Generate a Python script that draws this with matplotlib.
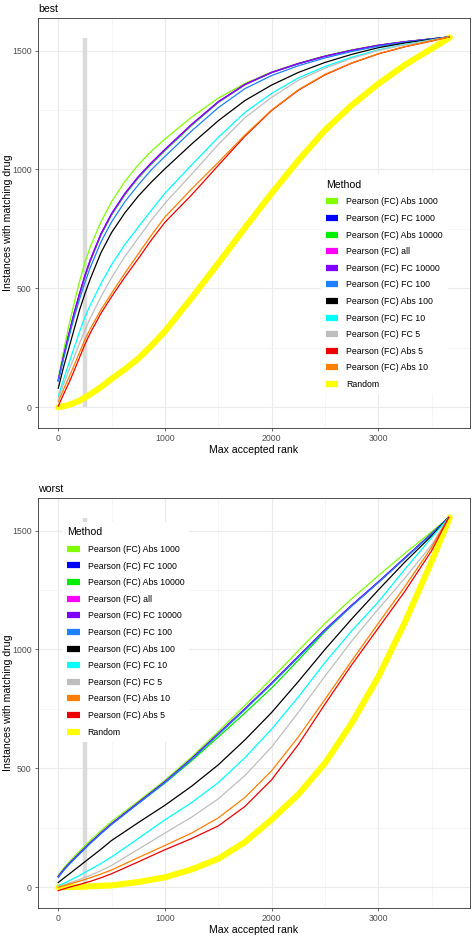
import matplotlib
matplotlib.use("Agg")
import matplotlib.pyplot as plt
from matplotlib.lines import Line2D

plt.rcParams['font.family'] = ['Liberation Sans', 'DejaVu Sans']

# ---------------- data ----------------
labels_best = ["Pearson (FC) Abs 1000", "Pearson (FC) FC 1000", "Pearson (FC) Abs 10000",
               "Pearson (FC) all", "Pearson (FC) FC 10000", "Pearson (FC) FC 100",
               "Pearson (FC) Abs 100", "Pearson (FC) FC 10", "Pearson (FC) FC 5",
               "Pearson (FC) Abs 5", "Pearson (FC) Abs 10", "Random"]
labels_worst = ["Pearson (FC) Abs 1000", "Pearson (FC) FC 1000", "Pearson (FC) Abs 10000",
                "Pearson (FC) all", "Pearson (FC) FC 10000", "Pearson (FC) FC 100",
                "Pearson (FC) Abs 100", "Pearson (FC) FC 10", "Pearson (FC) FC 5",
                "Pearson (FC) Abs 10", "Pearson (FC) Abs 5", "Random"]

method_colors = {
    "Pearson (FC) Abs 1000": "#7FFF00",
    "Pearson (FC) FC 1000": "#0000FF",
    "Pearson (FC) Abs 10000": "#00EE00",
    "Pearson (FC) all": "#FF00FF",
    "Pearson (FC) FC 10000": "#7F00FF",
    "Pearson (FC) FC 100": "#1C7FFF",
    "Pearson (FC) Abs 100": "#000000",
    "Pearson (FC) FC 10": "#00FFFF",
    "Pearson (FC) FC 5": "#BEBEBE",
    "Pearson (FC) Abs 5": "#EE0000",
    "Pearson (FC) Abs 10": "#FF7F00",
    "Random": "#FFFF00",
}

# best panel
x_best = [0, 25, 50, 100, 150, 200, 250, 300, 400, 500, 625, 750, 875, 1000, 1250,
          1500, 1750, 2000, 2250, 2500, 2750, 3000, 3250, 3500, 3660]
best_abs1000 = [120, 180, 238, 345, 440, 530, 610, 675, 780, 865, 950, 1020, 1078, 1128, 1220,
                1300, 1362, 1410, 1447, 1478, 1503, 1523, 1538, 1550, 1557]
best_fc1000 = [114, 166, 214, 306, 396, 476, 551, 616, 726, 811, 896, 966, 1026, 1081, 1187,
               1283, 1357, 1408, 1445, 1476, 1501, 1522, 1537, 1549, 1557]
best_abs10000 = [113, 164, 212, 304, 394, 474, 549, 614, 724, 809, 894, 964, 1024, 1079, 1185,
                 1282, 1356, 1407, 1444, 1476, 1501, 1522, 1537, 1549, 1557]
best_all = [112, 165, 214, 308, 398, 478, 553, 618, 728, 813, 898, 968, 1028, 1083, 1189,
            1284, 1357, 1408, 1445, 1476, 1501, 1522, 1537, 1549, 1557]
best_fc10000 = [112, 165, 215, 310, 400, 480, 555, 620, 730, 815, 900, 970, 1030, 1085, 1190,
                1285, 1358, 1408, 1445, 1476, 1501, 1522, 1537, 1549, 1557]
best_fc100 = [110, 158, 205, 295, 380, 455, 525, 588, 695, 780, 865, 935, 1000, 1055, 1162,
              1260, 1340, 1395, 1436, 1469, 1496, 1518, 1535, 1548, 1557]
best_abs100 = [80, 125, 170, 250, 330, 410, 478, 540, 650, 735, 818, 888, 948, 1003, 1107,
               1205, 1290, 1355, 1408, 1450, 1484, 1512, 1532, 1547, 1557]
best_fc10 = [45, 82, 118, 185, 252, 318, 380, 430, 520, 600, 685, 758, 830, 900, 1019,
             1135, 1240, 1320, 1385, 1433, 1472, 1503, 1526, 1545, 1557]
best_fc5 = [39, 68, 97, 155, 212, 270, 325, 375, 465, 545, 635, 712, 788, 858, 980,
            1105, 1218, 1303, 1375, 1426, 1467, 1500, 1524, 1544, 1557]
best_abs5 = [5, 30, 55, 103, 155, 210, 265, 312, 395, 465, 548, 625, 705, 778, 893,
             1017, 1140, 1248, 1333, 1398, 1447, 1486, 1516, 1540, 1557]
best_abs10 = [24, 50, 76, 126, 178, 232, 285, 330, 410, 480, 565, 645, 725, 800, 918,
              1030, 1145, 1250, 1335, 1400, 1448, 1487, 1517, 1541, 1557]
x_best_random = [0, 100, 200, 300, 400, 500, 625, 750, 875, 1000, 1250, 1500, 1750, 2000,
                 2250, 2500, 2750, 3000, 3250, 3500, 3670]
best_random = [0, 10, 28, 55, 85, 120, 160, 205, 260, 320, 460, 606, 755, 900,
               1038, 1165, 1270, 1360, 1440, 1508, 1555]

# worst panel
x_worst = [0, 50, 100, 200, 300, 400, 500, 750, 1000, 1250, 1500, 1750, 2000, 2250, 2500,
           2750, 3000, 3250, 3500, 3660]
worst_abs1000 = [50, 80, 106, 152, 197, 238, 277, 362, 450, 548, 655, 765, 878, 995, 1110,
                 1213, 1310, 1405, 1495, 1555]
worst_fc1000 = [45, 73, 98, 143, 187, 228, 267, 355, 443, 540, 645, 750, 858, 970, 1082,
                1185, 1283, 1385, 1487, 1555]
worst_abs10000 = [45, 73, 98, 143, 187, 228, 267, 353, 438, 532, 632, 733, 838, 955, 1075,
                  1183, 1283, 1385, 1487, 1555]
worst_all = [44, 72, 97, 142, 186, 227, 266, 354, 442, 539, 644, 749, 857, 969, 1081,
             1184, 1283, 1385, 1487, 1555]
worst_fc10000 = [46, 74, 99, 144, 188, 229, 268, 356, 444, 541, 646, 751, 859, 971, 1083,
                 1186, 1284, 1386, 1487, 1555]
worst_fc100 = [42, 70, 95, 140, 184, 225, 264, 352, 440, 537, 642, 747, 855, 967, 1079,
               1182, 1281, 1383, 1486, 1555]
worst_abs100 = [20, 38, 55, 90, 125, 160, 197, 272, 345, 425, 515, 620, 735, 865, 1000,
                1128, 1250, 1368, 1478, 1555]
worst_fc10 = [6, 16, 27, 50, 75, 100, 128, 205, 284, 356, 440, 545, 665, 800, 945,
              1078, 1200, 1338, 1470, 1555]
worst_fc5 = [3, 10, 17, 33, 50, 70, 92, 160, 228, 295, 372, 470, 590, 735, 888,
             1035, 1170, 1300, 1440, 1555]
worst_abs10 = [0, 6, 13, 26, 40, 56, 73, 125, 176, 228, 292, 378, 490, 632, 790,
               952, 1110, 1265, 1430, 1555]
worst_abs5 = [-14, -7, 0, 12, 25, 40, 57, 107, 158, 205, 258, 340, 452, 600, 770,
              935, 1090, 1245, 1415, 1555]
x_worst_random = [0, 250, 500, 750, 1000, 1250, 1500, 1750, 2000, 2250, 2500, 2750, 3000,
                  3250, 3500, 3670]
worst_random = [0, 3, 8, 22, 42, 75, 120, 190, 285, 390, 522, 690, 885, 1115, 1370, 1555]

cutoff_rank = 250
cutoff_top = 1552

best_series = {
    "Pearson (FC) Abs 1000": best_abs1000, "Pearson (FC) FC 1000": best_fc1000,
    "Pearson (FC) Abs 10000": best_abs10000, "Pearson (FC) all": best_all,
    "Pearson (FC) FC 10000": best_fc10000, "Pearson (FC) FC 100": best_fc100,
    "Pearson (FC) Abs 100": best_abs100, "Pearson (FC) FC 10": best_fc10,
    "Pearson (FC) FC 5": best_fc5, "Pearson (FC) Abs 5": best_abs5,
    "Pearson (FC) Abs 10": best_abs10,
}
worst_series = {
    "Pearson (FC) Abs 1000": worst_abs1000, "Pearson (FC) FC 1000": worst_fc1000,
    "Pearson (FC) Abs 10000": worst_abs10000, "Pearson (FC) all": worst_all,
    "Pearson (FC) FC 10000": worst_fc10000, "Pearson (FC) FC 100": worst_fc100,
    "Pearson (FC) Abs 100": worst_abs100, "Pearson (FC) FC 10": worst_fc10,
    "Pearson (FC) FC 5": worst_fc5, "Pearson (FC) Abs 10": worst_abs10,
    "Pearson (FC) Abs 5": worst_abs5,
}

# ---------------- figure ----------------
fig = plt.figure(figsize=(4.75, 9.39), dpi=100)
W, H = 475, 939


def make_ax(left, top, right, bottom):
    return fig.add_axes([left / W, 1 - bottom / H, (right - left) / W, (bottom - top) / H])


ax_best = make_ax(38, 18, 470, 428)
ax_worst = make_ax(38, 498, 470, 908)


def style_axes(ax, title):
    ax.set_xlim(-190, 3860)
    ax.set_ylim(-87, 1637)
    ax.set_xticks([0, 1000, 2000, 3000])
    ax.set_yticks([0, 500, 1000, 1500])
    ax.set_xticks([500, 1500, 2500, 3500], minor=True)
    ax.set_yticks([250, 750, 1250], minor=True)
    ax.grid(which='major', color='#EBEBEB', lw=0.8, zorder=0)
    ax.grid(which='minor', color='#F2F2F2', lw=0.5, zorder=0)
    ax.set_axisbelow(True)
    ax.tick_params(which='major', length=2.5, width=0.5, color='#333333',
                   labelsize=6.3, labelcolor='#4D4D4D', pad=2)
    ax.tick_params(which='minor', length=0)
    for s in ax.spines.values():
        s.set_color('#333333')
        s.set_linewidth(0.6)
    ax.set_xlabel("Max accepted rank", fontsize=7.6, labelpad=1.5)
    ax.set_ylabel("Instances with matching drug", fontsize=7.6)
    ax.yaxis.set_label_coords(-0.058, 0.5)
    ax.set_title(title, loc='left', fontsize=7.6, pad=4)


def draw_panel(ax, xs, series, order, xr, yr, legend_anchor):
    ax.plot([cutoff_rank, cutoff_rank], [0, cutoff_top], color='#DADADA', lw=3.2,
            solid_capstyle='butt', zorder=1)
    for lab in order:
        if lab == "Random":
            continue
        ax.plot(xs, series[lab], color=method_colors[lab], lw=0.9, zorder=3,
                solid_joinstyle='round')
    ax.plot(xr, yr, color=method_colors["Random"], lw=4.4, zorder=2,
            solid_capstyle='round', solid_joinstyle='round')
    handles = [Line2D([0], [0], color=method_colors[l], lw=4.5, solid_capstyle='butt')
               for l in order]
    leg = ax.legend(handles, order, title="Method", loc='upper left',
                    bbox_to_anchor=legend_anchor, fontsize=6.3, title_fontsize=7.6,
                    frameon=True, fancybox=False, framealpha=1, edgecolor='none',
                    facecolor='white', handlelength=1.4, handletextpad=0.9,
                    labelspacing=0.87, borderpad=0.6, alignment='left')
    leg.set_zorder(5)


style_axes(ax_best, "best")
style_axes(ax_worst, "worst")
draw_panel(ax_best, x_best, best_series, labels_best, x_best_random, best_random, (0.644, 0.629))
draw_panel(ax_worst, x_worst, worst_series, labels_worst, x_worst_random, worst_random, (0.046, 0.952))

fig.savefig("out.png", dpi=100)
